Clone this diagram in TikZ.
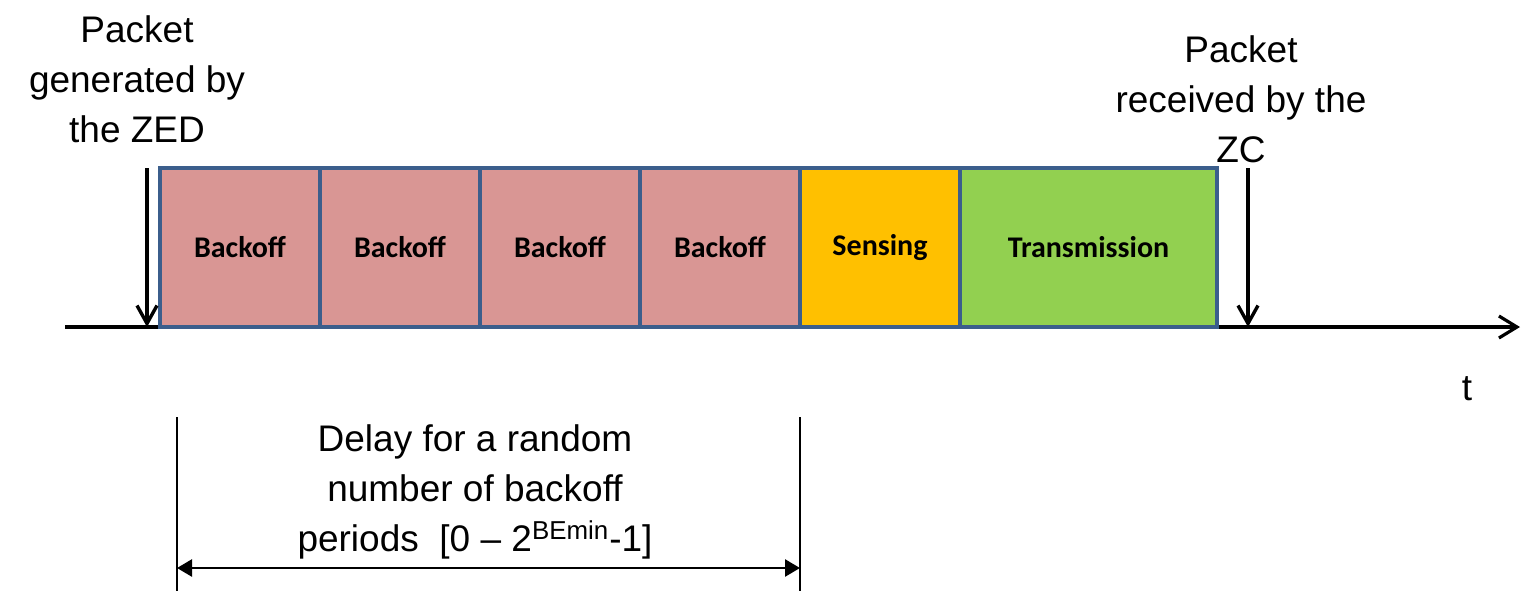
\documentclass[tikz,border=0pt]{standalone}
\usepackage{fontspec}
\setmainfont{Liberation Sans}
\newfontfamily\boxfont{Carlito}
\usetikzlibrary{positioning,arrows.meta}
\definecolor{edgeblue}{HTML}{3B5E8C}
\definecolor{backoffred}{HTML}{D99694}
\definecolor{senseyellow}{HTML}{FFC000}
\definecolor{txgreen}{HTML}{92D050}

\begin{document}
\begin{tikzpicture}
  [x=0.5pt,y=-0.5pt,
   slot/.style={draw=edgeblue,line width=2pt,minimum width=80pt,minimum height=79.5pt,
     inner sep=0pt,outer sep=0pt,font=\boxfont\bfseries\fontsize{15}{18}\selectfont},
   note/.style={align=center,inner sep=0pt,font=\fontsize{18.5}{25}\selectfont},
   timeline/.style={line width=2.2pt,-{Straight Barb[length=9pt,width=11pt,line width=1.6pt]}},
   hit/.style={line width=1.7pt,-{Straight Barb[length=9pt,width=10pt]}},
   span/.style={line width=1.3pt,{Triangle[length=7.5pt,width=8.5pt]}-{Triangle[length=7.5pt,width=8.5pt]}}]
  \useasboundingbox (0,0) rectangle (1522,591);

  % time axis
  \coordinate (t0) at (65,327);
  \coordinate (t1) at (1520,327);
  \draw[timeline] (t0) -- (t1);

  % slots
  \node[slot,fill=backoffred,anchor=south west] (b1) at (160,327) {Backoff};
  \node[slot,fill=backoffred,right=0pt of b1] (b2) {Backoff};
  \node[slot,fill=backoffred,right=0pt of b2] (b3) {Backoff};
  \node[slot,fill=backoffred,right=0pt of b3] (b4) {Backoff};
  \node[slot,fill=senseyellow,right=0pt of b4] (sense) {Sensing};
  \node[slot,fill=txgreen,minimum width=128.5pt,right=0pt of sense] (tx) {Transmission};

  % events
  \node[note] (gen) at (137,79) {Packet\\generated by\\the ZED};
  \node[note] (rcv) at (1241,99) {Packet\\received by the\\ZC};
  \node[note] (t) at (1467,389) {t};
  \coordinate (genTop) at (147,168);
  \coordinate (genHit) at (147,327);
  \coordinate (rcvTop) at (1248,168);
  \coordinate (rcvHit) at (1248,327);

  \foreach \from/\to in {genTop/genHit,rcvTop/rcvHit}
    \draw[hit] (\from) -- (\to);

  % backoff delay
  \node[note] (delay) at (475,492)
    {Delay for a random\\number of backoff\\periods\ \ [0 -- 2\textsuperscript{BEmin}-1]};
  \coordinate (d0) at (177,417);
  \coordinate (d0b) at (177,591);
  \coordinate (d1) at (800,417);
  \coordinate (d1b) at (800,591);
  \coordinate (s0) at (177,568);
  \coordinate (s1) at (800,568);

  \foreach \from/\to in {d0/d0b,d1/d1b}
    \draw[line width=0.8pt] (\from) -- (\to);
  \draw[span] (s0) -- (s1);

\end{tikzpicture}
\end{document}
